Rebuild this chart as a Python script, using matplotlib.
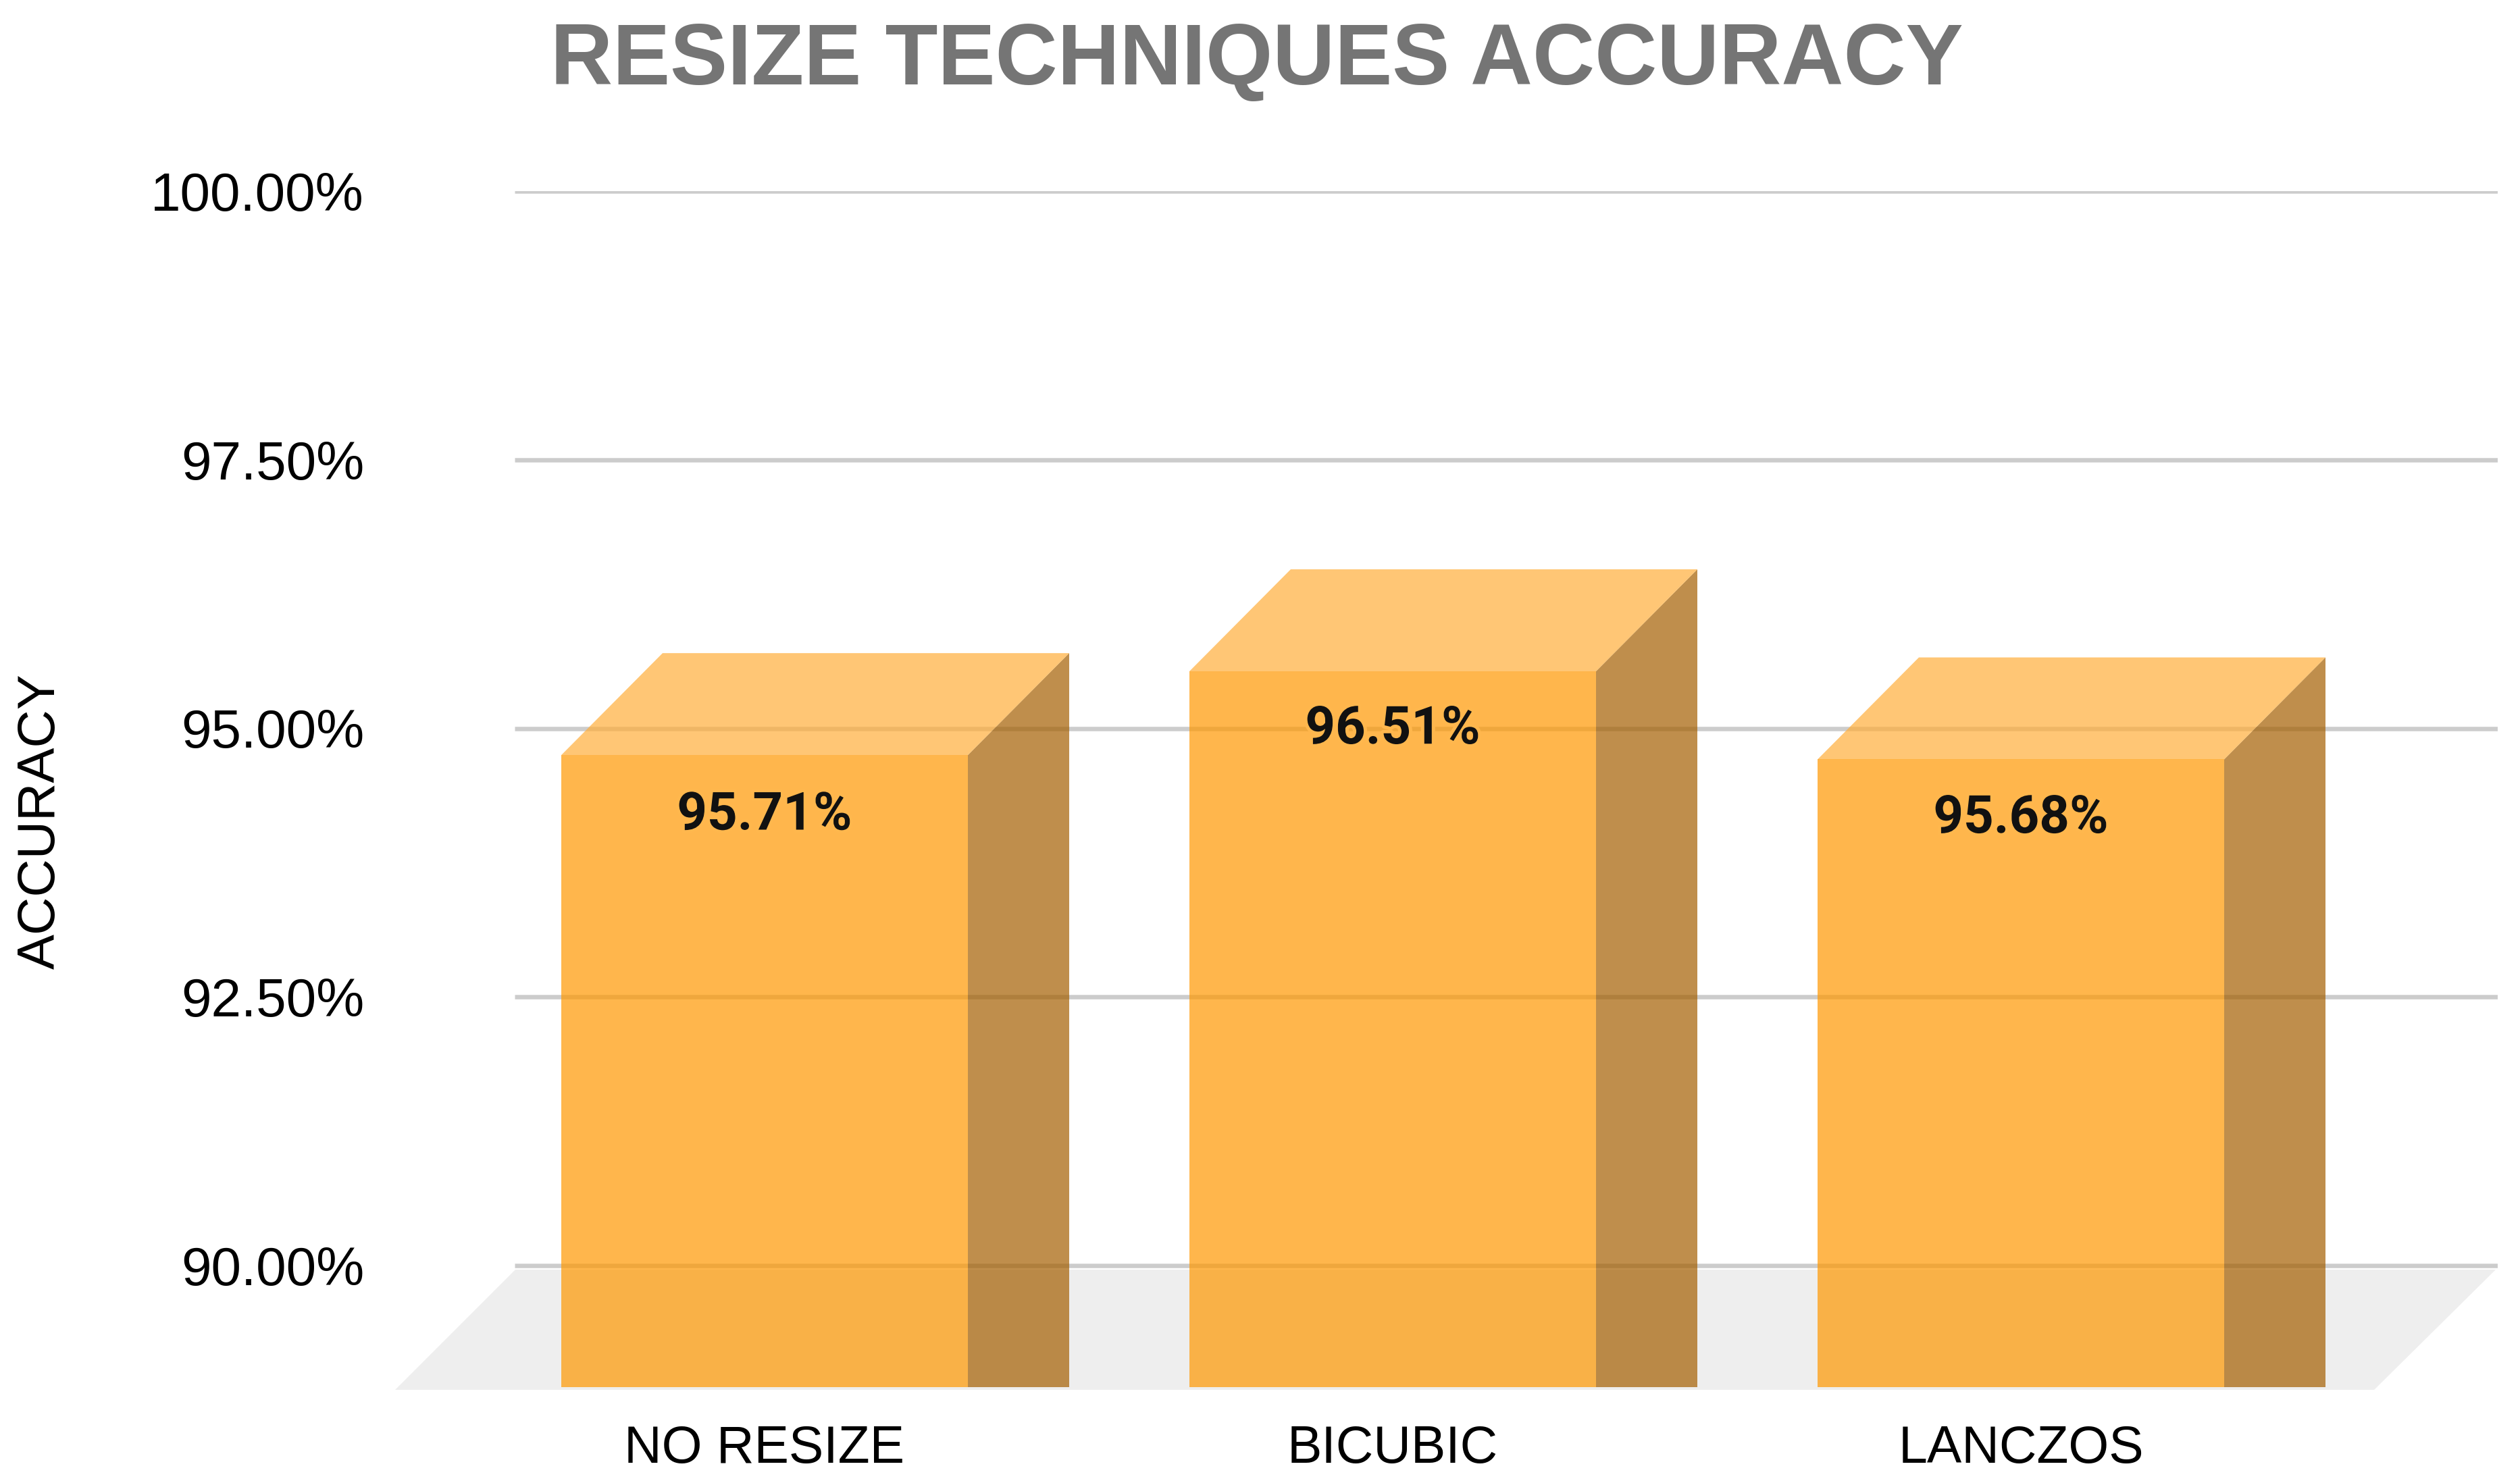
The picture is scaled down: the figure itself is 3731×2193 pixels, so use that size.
import matplotlib
matplotlib.use("Agg")
import matplotlib.pyplot as plt
import matplotlib.patheffects as pe

# Chart data
categories = ["NO RESIZE", "BICUBIC", "LANCZOS"]
label_values = [95.71, 96.51, 95.68]
# Height of each bar's back edge
bar_tops = [95.70, 96.48, 95.66]
y_ticks = [90.0, 92.5, 95.0, 97.5, 100.0]

# Figure size and plot frame, in pixels of the output
W, H = 3731, 2193
DPI = 100
PX = 72 / DPI  # points per pixel
LEFT, RIGHT, TOP, BOTTOM = 585, 3698, 283, 2058

# Scales: pixels per category and per accuracy point
SLOT = 930
UNIT = 159.1
CENTER_0 = 1132

FONT = "Liberation Sans"
TICK_SIZE = 78 * PX

fig = plt.figure(figsize=(W / DPI, H / DPI), dpi=DPI, facecolor="white")
ax = fig.add_axes([LEFT / W, 1 - BOTTOM / H, (RIGHT - LEFT) / W, (BOTTOM - TOP) / H])

ax.set_xlim((LEFT - CENTER_0) / SLOT, (RIGHT - CENTER_0) / SLOT)
ax.set_ylim(90 - (BOTTOM - 1874) / UNIT, 100)

# Depth of the fake 3D effect in data units
depth_x = 150 / SLOT
depth_y = 151 / UNIT
half = 301 / SLOT
base = 90 - (2054 - 1874) / UNIT

# Floor
floor_top = 90 - (1880 - 1874) / UNIT
x0, x1 = ax.get_xlim()
y0 = ax.get_ylim()[0]
ax.fill([x0, x0 + 178 / SLOT, x1 - 3 / SLOT, x1 - 183 / SLOT],
        [y0, floor_top, floor_top, y0], color="#EEEEEE", lw=0, zorder=1)

# Gridlines sit on the back wall
ax.hlines(y_ticks, x0 + 177 / SLOT, x1, color="#CCCCCC", lw=6.5 * PX, zorder=2)

for i, (top, val) in enumerate(zip(bar_tops, label_values)):
    front = top - depth_y

    # Front face
    ax.bar(i, front - base, width=2 * half, bottom=base, color="#FF9800", alpha=0.7, lw=0, zorder=3)

    # Right side
    ax.fill([i + half, i + half + depth_x, i + half + depth_x, i + half],
            [base, base, top, front], color="#A45F00", alpha=0.7, lw=0, zorder=3)

    # Top face
    ax.fill([i - half, i - half + depth_x, i + half + depth_x, i + half],
            [front, top, top, front], color="#FFAE3A", alpha=0.7, lw=0, zorder=3)

    # Data label with a halo in the bar colour
    ax.text(i, val - 263 / UNIT, f"{val:.2f}%", ha="center", va="baseline",
            family="Roboto", weight="bold", fontsize=78 * PX, color="#111111", zorder=4,
            path_effects=[pe.withStroke(linewidth=10 * PX, foreground="#FFB74D")])

# Axes
ax.set_xticks(range(len(categories)))
ax.set_xticklabels(categories, family=FONT, fontsize=77 * PX, color="#000000")
ax.set_yticks(y_ticks)
ax.set_yticklabels([f"{v:.2f}%" for v in y_ticks], family=FONT, fontsize=80 * PX, color="#000000")
ax.tick_params(axis="x", length=0, pad=51 * PX)
ax.tick_params(axis="y", length=0, pad=46 * PX)
for spine in ax.spines.values():
    spine.set_visible(False)
ax.patch.set_alpha(0)

ax.set_ylabel("ACCURACY", family=FONT, fontsize=TICK_SIZE, color="#000000", va="center")
ax.yaxis.set_label_coords((60 - LEFT) / (RIGHT - LEFT), (BOTTOM - 1216) / (BOTTOM - TOP))

# Title
fig.text(1861 / W, 1 - 125 / H, "RESIZE TECHNIQUES ACCURACY", ha="center", va="baseline",
         family=FONT, weight="bold", fontsize=127.5 * PX, color="#757575")

fig.savefig("out.png", dpi=DPI)
